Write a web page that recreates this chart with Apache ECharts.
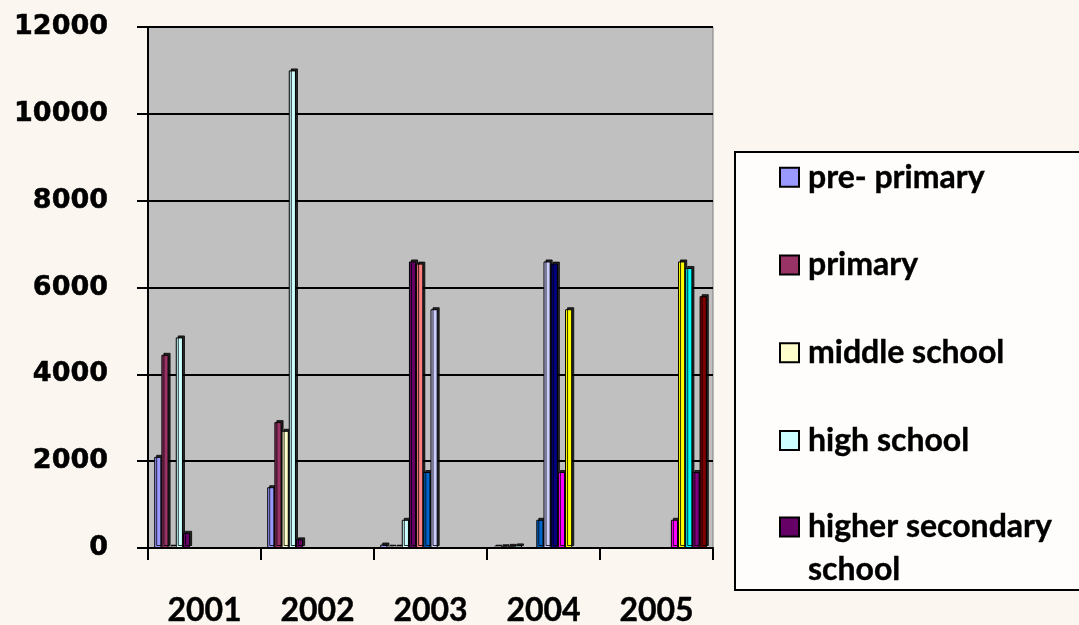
<!DOCTYPE html>
<html>
<head>
<meta charset="utf-8">
<script src="https://cdn.jsdelivr.net/npm/echarts@6/dist/echarts.min.js"></script>
<style>
html,body{margin:0;padding:0;background:#FBF6EF;}
#chart{width:1079px;height:625px;}
</style>
</head>
<body>
<div id="chart"></div>
<script>
// ---- data ----
var years = ['2001', '2002', '2003', '2004', '2005'];
var yTicks = [0, 2000, 4000, 6000, 8000, 10000, 12000];

var seriesNames = ['pre- primary', 'primary', 'middle school', 'high school', 'higher secondary school',
  'Series6', 'Series7', 'Series8', 'Series9', 'Series10', 'Series11', 'Series12', 'Series13', 'Series14'];

var prePrimary      = [2100, 1400,   80,   30,    0];
var primary         = [4450, 2900,   30,   40,    0];
var middleSchool    = [  30, 2700,   30,   50,    0];
var highSchool      = [4850, 11000, 650,   60,    0];
var higherSecondary = [ 350,  200, 6600,    0,    0];
var series6         = [   0,    0, 6550,    0,    0];
var series7         = [   0,    0, 1750,  650,    0];
var series8         = [   0,    0, 5500, 6600,    0];
var series9         = [   0,    0,    0, 6550,    0];
var series10        = [   0,    0,    0, 1750,  650];
var series11        = [   0,    0,    0, 5500, 6600];
var series12        = [   0,    0,    0,    0, 6450];
var series13        = [   0,    0,    0,    0, 1750];
var series14        = [   0,    0,    0,    0, 5800];

var seriesValues = [prePrimary, primary, middleSchool, highSchool, higherSecondary,
  series6, series7, series8, series9, series10, series11, series12, series13, series14];

var colors = ['#9999FF', '#993366', '#FFFFCC', '#CCFFFF', '#660066', '#FF8080', '#0066CC',
  '#CCCCFF', '#000080', '#FF00FF', '#FFFF00', '#00FFFF', '#800080', '#800000'];

// ---- chart ----
var chart = echarts.init(document.getElementById('chart'), null, {renderer: 'canvas'});

var series = seriesValues.map(function (vals, i) {
  return {
    name: seriesNames[i],
    type: 'bar',
    // zero values are not drawn (no visible bar in the reference)
    data: vals.map(function (v) { return v === 0 ? null : v; }),
    barGap: '0%',
    barCategoryGap: '11%',
    itemStyle: {
      color: colors[i],
      borderColor: '#000',
      borderWidth: 1,
      shadowColor: 'rgba(0,0,0,0.8)',
      shadowOffsetX: 2,
      shadowOffsetY: -2,
      shadowBlur: 0
    },
    emphasis: {disabled: true}
  };
});

var legendItemStyle = {borderColor: '#000', borderWidth: 2, shadowBlur: 0, shadowOffsetX: 0, shadowOffsetY: 0, shadowColor: 'rgba(0,0,0,0)'};
var legendFont = {fontFamily: 'Lato', fontWeight: 'bold', fontSize: 32, color: '#000', textBorderColor: '#000', textBorderWidth: 0.4};

function legendRich(lh) {
  return {t: Object.assign({lineHeight: lh, padding: [0, 0, 0, 4]}, legendFont)};
}

chart.setOption({
  animation: false,
  color: colors,
  graphic: [{
    type: 'rect',
    z: -1,
    shape: {x: 735, y: 152, width: 360, height: 438},
    style: {fill: 'rgba(255,255,255,0.75)', stroke: '#000', lineWidth: 2}
  }],
  legend: [{
    orient: 'vertical',
    left: 779,
    top: 161,
    padding: 0,
    itemWidth: 19,
    itemHeight: 19,
    itemGap: 55.4,
    icon: 'rect',
    selectedMode: false,
    data: seriesNames.slice(0, 4),
    formatter: function (name) { return '{t|' + name + '}'; },
    itemStyle: legendItemStyle,
    textStyle: Object.assign({lineHeight: 30, rich: legendRich(30)}, legendFont)
  }, {
    orient: 'vertical',
    left: 779,
    top: 462.5,
    padding: 0,
    itemWidth: 19,
    itemHeight: 19,
    icon: 'rect',
    selectedMode: false,
    data: [seriesNames[4]],
    formatter: function () { return '{t| }\n{t|higher secondary}\n{t|school}'; },
    itemStyle: legendItemStyle,
    textStyle: Object.assign({lineHeight: 43, rich: legendRich(43)}, legendFont)
  }],
  grid: {
    left: 148, right: 366, top: 27, bottom: 77,
    outerBoundsMode: 'none',
    containLabel: false,
    show: true,
    backgroundColor: '#C0C0C0',
    borderColor: '#7F7F7F',
    borderWidth: 1
  },
  xAxis: {
    type: 'category',
    data: years,
    axisLine: {show: true, lineStyle: {color: '#000', width: 2}},
    axisTick: {show: true, length: 12, lineStyle: {color: '#000', width: 2}},
    axisLabel: {
      margin: 47,
      fontFamily: 'Lato', fontWeight: 'bold', fontSize: 32, color: '#000',
      textBorderColor: '#000', textBorderWidth: 0.4
    }
  },
  yAxis: {
    type: 'value',
    min: yTicks[0],
    max: yTicks[yTicks.length - 1],
    interval: yTicks[1] - yTicks[0],
    axisLine: {show: true, lineStyle: {color: '#000', width: 2}},
    axisTick: {show: true, length: 11, lineStyle: {color: '#000', width: 2}},
    splitLine: {show: true, lineStyle: {color: '#000', width: 2}},
    axisLabel: {
      margin: 40,
      formatter: function (v) { return String(v); },
      fontFamily: 'DejaVu Sans', fontWeight: 'bold', fontSize: 27, color: '#000',
      textBorderColor: '#000', textBorderWidth: 0.5
    }
  },
  series: series
});
</script>
</body>
</html>
